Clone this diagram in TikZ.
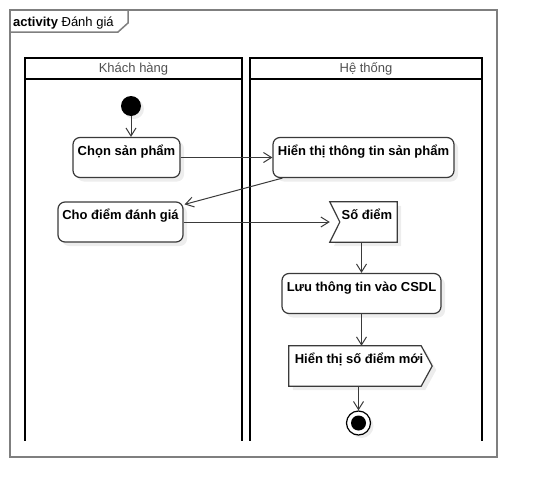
\documentclass[tikz,border=0pt]{standalone}
\usepackage{fontspec}
\setmainfont{Liberation Sans}
\usetikzlibrary{arrows.meta,shadows,calc}
\definecolor{framegray}{HTML}{7F7F7F}
\definecolor{headgray}{HTML}{505050}
\definecolor{linegray}{HTML}{3A3A3A}
\definecolor{shadowgray}{HTML}{EDEDED}
\pgfdeclarelayer{background}
\pgfsetlayers{background,main}
\begin{document}
\begin{tikzpicture}[x=1pt,y=-1pt,
  boxfont/.style={font=\fontsize{13}{15}\selectfont\bfseries, text=black},
  actbox/.style={boxfont, draw=linegray, line width=1.2pt, rounded corners=7pt, fill=white,
    text height=17.5pt, text depth=22.5pt, inner ysep=0pt, inner xsep=0pt, minimum height=40pt,
    drop shadow={shadow xshift=4pt,shadow yshift=-4pt,fill=shadowgray,opacity=1}},
  sigtext/.style={boxfont, text height=17.5pt, text depth=22.5pt, inner ysep=0pt, inner xsep=0pt, minimum height=40pt},
  sigline/.style={draw=linegray, line width=1.2pt, fill=white,
    drop shadow={shadow xshift=4pt,shadow yshift=-4pt,fill=shadowgray,opacity=1}},
  flow/.style={draw=linegray, line width=1pt, -{Straight Barb[length=8pt,width=10pt]}},
  lane/.style={draw=black, line width=2pt},
  lanehead/.style={font=\fontsize{13}{15}\selectfont, text=headgray, inner sep=0pt},
  framestyle/.style={draw=framegray, line width=1.5pt}]
\useasboundingbox (0,0) rectangle (538,498);

% frame
\draw[framestyle] (10,10) rectangle (497,457);
\draw[framestyle] (10,32) -- (118,32) -- (128,23) -- (128,10);
\node[anchor=base west, font=\fontsize{13}{15}\selectfont, inner sep=0pt] (title) at (13,26.5) {\textbf{activity} Đánh giá};

% lanes
\draw[lane] (25,58) rectangle (242,79);
\draw[lane] (25,79) -- (25,441);
\draw[lane] (242,79) -- (242,441);
\node[lanehead] (lane1) at (133.5,69) {Khách hàng};
\draw[lane] (250,58) rectangle (482,79);
\draw[lane] (250,79) -- (250,441);
\draw[lane] (482,79) -- (482,441);
\node[lanehead] (lane2) at (366,69) {Hệ thống};

% nodes
\node[circle, fill=black, inner sep=0pt, minimum size=20pt,
  drop shadow={shadow xshift=3pt,shadow yshift=-3pt,fill=shadowgray,opacity=1}] (init) at (131,106) {};
\node[actbox, minimum width=107pt] (chon) at (126.5,157.5) {Chọn sản phẩm};
\node[actbox, minimum width=125pt] (cho) at (120.5,222) {Cho điểm đánh giá};
\node[actbox, minimum width=181pt] (ht) at (363.5,157.5) {Hiển thị thông tin sản phẩm};
\node[actbox, minimum width=159pt] (luu) at (361.5,293.5) {Lưu thông tin vào CSDL};
\node[sigtext, minimum width=67pt] (so) at (363.5,222) {\hspace*{7pt}Số điểm};
\node[sigtext, minimum width=143pt] (sd) at (360.5,366) {Hiển thị số điểm mới\hspace*{3pt}};
\node[circle, draw=black, line width=1.2pt, fill=white, inner sep=0pt, minimum size=24pt,
  drop shadow={shadow xshift=3pt,shadow yshift=-3pt,fill=shadowgray,opacity=1}] (fin) at (358.5,423) {};
\fill[black] (fin.center) circle[radius=7.5];

\begin{pgfonlayer}{background}
\draw[sigline] (so.north west) -- (so.north east) -- (so.south east) -- (so.south west) -- ($(so.west)+(10,0)$) -- cycle;
\draw[sigline] (sd.north west) -- ($(sd.north east)+(-11,0)$) -- (sd.east) -- ($(sd.south east)+(-11,0)$) -- (sd.south west) -- cycle;
\end{pgfonlayer}

% connectors
\draw[flow] (init) -- (init |- chon.north);
\draw[flow] (chon) -- (ht);
\draw[flow] ($(ht.south west)+(10,0)$) -- ($(cho.north east)+(1,3)$);
\draw[flow] (cho) -- (so.west);
\draw[flow] (luu.north |- so.south) -- (luu.north);
\draw[flow] (luu.south) -- (luu.south |- sd.north);
\draw[flow] (fin.north |- sd.south) -- (fin.north);
\end{tikzpicture}
\end{document}
